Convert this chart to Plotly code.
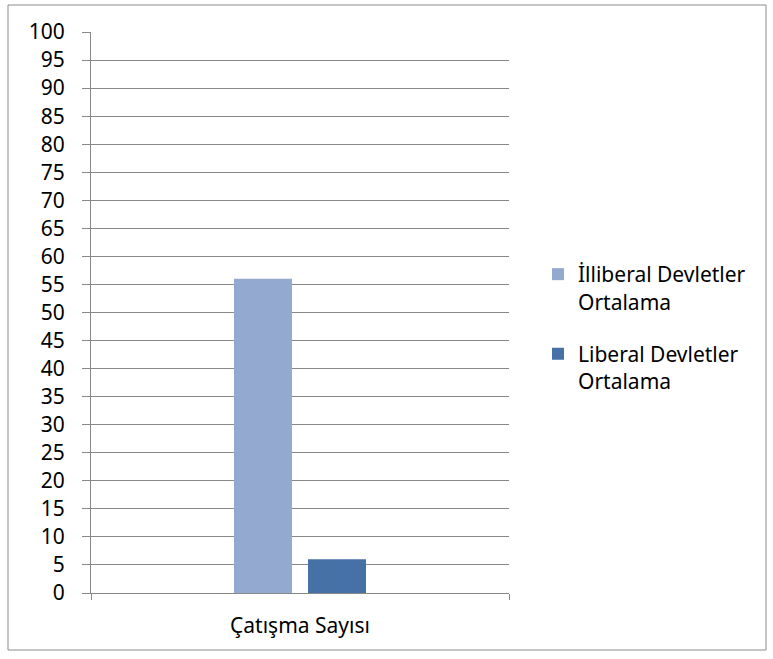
import plotly.graph_objects as go

# ── Data ──────────────────────────────────────────────────────────────────────
categories = ["Çatışma Sayısı"]
series_names = ["İlliberal Devletler<br>Ortalama", "Liberal Devletler<br>Ortalama"]
illiberal_values = [56]
liberal_values = [6]
y_ticks = list(range(0, 101, 5))

COLORS = ["#94A9CF", "#4571A6"]
GRID = "#888888"
FONT = "Noto Sans, Open Sans, sans-serif"
FS = 21

W, H = 773, 659
L, R, T, B = 91, 509, 32, 593  # plot area in pixels

fig = go.Figure()
# separate legend groups so tracegroupgap spaces the two entries apart
fig.add_trace(go.Bar(x=categories, y=illiberal_values, name=series_names[0],
                     legendgroup="illiberal",
                     marker=dict(color=COLORS[0], line=dict(width=0))))
fig.add_trace(go.Bar(x=categories, y=liberal_values, name=series_names[1],
                     legendgroup="liberal",
                     marker=dict(color=COLORS[1], line=dict(width=0))))

pw, ph = R - L, B - T
fig.add_shape(type="rect", xref="paper", yref="paper",
              x0=(8 - L) / pw, x1=(766 - L) / pw,
              y0=(B - 650) / ph, y1=(B - 5) / ph,
              line=dict(color="#8c8c8c", width=1), fillcolor="rgba(0,0,0,0)",
              layer="below")

fig.update_layout(
    width=W, height=H,
    margin=dict(l=L, r=W - R, t=T, b=H - B, pad=0, autoexpand=False),
    paper_bgcolor="white", plot_bgcolor="white",
    font=dict(family=FONT, size=FS, color="#000000"),
    barmode="group", bargap=0.646, bargroupgap=0.216,
    showlegend=True,
    legend=dict(xref="container", yref="container", x=538 / W, y=1 - 254 / H,
                xanchor="left", yanchor="top", valign="top", tracegroupgap=22,
                itemwidth=30, font=dict(family=FONT, size=FS, color="#000000"),
                bgcolor="rgba(0,0,0,0)"),
    xaxis=dict(showgrid=False, showline=True, linecolor=GRID, linewidth=1,
               ticks="outside", tickson="boundaries", ticklen=6, tickcolor=GRID,
               tickfont=dict(size=FS), ticklabelstandoff=14, fixedrange=True),
    yaxis=dict(range=[0, 100], tickvals=y_ticks, showgrid=True, gridcolor=GRID,
               gridwidth=1, showline=True, linecolor=GRID, linewidth=1,
               ticks="outside", ticklen=8, tickcolor=GRID, zeroline=False,
               tickfont=dict(size=FS), ticklabelstandoff=13),
)

# page body has a default 8px margin; drop it so pixel positions line up
fig.write_html("out.html", config={"displayModeBar": False},
               post_script="document.body.style.margin='0';")
